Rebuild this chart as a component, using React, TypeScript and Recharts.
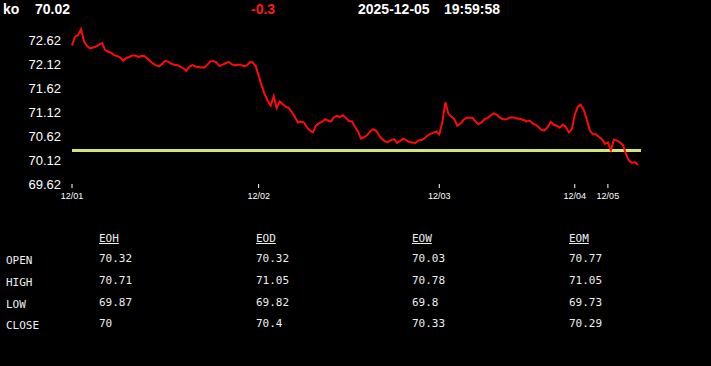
import React from 'react';
import { LineChart, Line, XAxis, YAxis, ReferenceLine } from 'recharts';

const symbol = 'ko';
const lastPrice = '70.02';
const change = '-0.3';
const dateText = '2025-12-05';
const timeText = '19:59:58';

const prices: number[] = [
  72.52, 72.70, 72.74, 72.86, 72.61, 72.51, 72.46, 72.48, 72.50, 72.54,
  72.57, 72.43, 72.39, 72.37, 72.32, 72.30, 72.27, 72.20, 72.26, 72.28,
  72.31, 72.31, 72.28, 72.30, 72.30, 72.25, 72.19, 72.14, 72.10, 72.09,
  72.14, 72.20, 72.18, 72.14, 72.12, 72.11, 72.08, 72.04, 71.99, 72.08,
  72.11, 72.08, 72.07, 72.06, 72.06, 72.12, 72.19, 72.19, 72.17, 72.09,
  72.12, 72.15, 72.18, 72.13, 72.11, 72.12, 72.12, 72.09, 72.10, 72.17,
  72.17, 72.09, 71.89, 71.68, 71.50, 71.36, 71.26, 71.46, 71.21, 71.35,
  71.29, 71.24, 71.21, 71.13, 71.03, 70.91, 70.93, 70.91, 70.81, 70.74,
  70.70, 70.84, 70.89, 70.92, 70.98, 70.95, 70.93, 71.02, 71.05, 71.02,
  71.06, 71.00, 70.94, 70.93, 70.82, 70.72, 70.57, 70.60, 70.64, 70.72,
  70.77, 70.74, 70.64, 70.56, 70.51, 70.50, 70.54, 70.56, 70.48, 70.52,
  70.57, 70.54, 70.50, 70.49, 70.48, 70.53, 70.54, 70.57, 70.63, 70.67,
  70.69, 70.72, 70.66, 70.91, 71.33, 71.10, 71.03, 70.98, 70.84, 70.88,
  70.96, 71.01, 71.01, 71.01, 70.93, 70.87, 70.91, 70.98, 71.00, 71.05,
  71.10, 71.08, 71.02, 70.98, 70.97, 71.00, 71.02, 71.01, 70.99, 70.98,
  70.96, 70.93, 70.95, 70.89, 70.86, 70.81, 70.75, 70.74, 70.81, 70.92,
  70.86, 70.84, 70.80, 70.86, 70.82, 70.70, 70.76, 71.07, 71.24, 71.28,
  71.17, 70.97, 70.74, 70.66, 70.66, 70.61, 70.56, 70.46, 70.49, 70.33,
  70.55, 70.53, 70.49, 70.44, 70.25, 70.11, 70.06, 70.08, 70.02,
];

const xTickIndex = [0, 62, 122, 167, 178];
const xTickLabels = ['12/01', '12/02', '12/03', '12/04', '12/05'];
const yTicks = [69.62, 70.12, 70.62, 71.12, 71.62, 72.12, 72.62];
const referenceLevel = 70.32;

const tableColumns = ['EOH', 'EOD', 'EOW', 'EOM'];
const tableRows = ['OPEN', 'HIGH', 'LOW', 'CLOSE'];
const openValues = ['70.32', '70.32', '70.03', '70.77'];
const highValues = ['70.71', '71.05', '70.78', '71.05'];
const lowValues = ['69.87', '69.82', '69.8', '69.73'];
const closeValues = ['70', '70.4', '70.33', '70.29'];

const data = prices.map((p, i) => ({ i, price: p }));
const tableValues = [openValues, highValues, lowValues, closeValues];

const colX = [99, 256, 412, 569];
const rowY = [258, 280, 302, 323];

export default function App() {
  const headerFont: React.CSSProperties = {
    position: 'absolute',
    top: 1,
    fontFamily: '"Liberation Sans", Arial, sans-serif',
    fontWeight: 'bold',
    fontSize: 14,
    lineHeight: '16px',
    color: '#ffffff',
    whiteSpace: 'nowrap',
  };
  const mono: React.CSSProperties = {
    position: 'absolute',
    fontFamily: '"DejaVu Sans Mono", monospace',
    fontSize: 11,
    lineHeight: '13px',
    color: '#eeeeee',
    whiteSpace: 'nowrap',
  };
  return (
    <div style={{ position: 'fixed', left: 0, top: 0, width: 711, height: 366, background: '#000000', overflow: 'hidden' }}>
      <div style={{ ...headerFont, left: 3 }}>{symbol}</div>
      <div style={{ ...headerFont, left: 35 }}>{lastPrice}</div>
      <div style={{ ...headerFont, left: 251, color: '#ff1a1a' }}>{change}</div>
      <div style={{ ...headerFont, left: 358 }}>{dateText}</div>
      <div style={{ ...headerFont, left: 444 }}>{timeText}</div>

      <div style={{ position: 'absolute', left: 0, top: 0 }}>
        <LineChart width={711} height={215} data={data} margin={{ top: 26, right: 70, bottom: 1, left: 0 }}>
          <XAxis
            dataKey="i"
            type="number"
            domain={[0, 189]}
            ticks={xTickIndex}
            tickFormatter={(v: number) => xTickLabels[xTickIndex.indexOf(v)] ?? ''}
            axisLine={false}
            tickLine={{ stroke: '#ffffff', strokeWidth: 1 }}
            tickSize={4}
            tickMargin={5}
            height={30}
            interval={0}
            tick={{ fill: '#ffffff', fontSize: 9, fontFamily: '"Liberation Sans", Arial, sans-serif' }}
          />
          <YAxis
            type="number"
            domain={[69.62, 72.93]}
            ticks={yTicks}
            width={72}
            axisLine={false}
            tickLine={false}
            tickSize={6}
            tickMargin={5}
            interval={0}
            allowDataOverflow
            tickFormatter={(v: number) => v.toFixed(2)}
            tick={{ fill: '#ffffff', fontSize: 13, fontFamily: '"Liberation Sans", Arial, sans-serif' }}
          />
          <ReferenceLine y={referenceLevel} stroke="#d6e27a" strokeWidth={3} ifOverflow="extendDomain" />
          <Line
            type="linear"
            dataKey="price"
            stroke="#ff0a0a"
            strokeWidth={2}
            dot={false}
            isAnimationActive={false}
          />
        </LineChart>
      </div>

      {tableColumns.map((c, ci) => (
        <div key={c} style={{ ...mono, left: colX[ci], top: 232, textDecoration: 'underline' }}>{c}</div>
      ))}
      {tableRows.map((r, ri) => (
        <div key={r} style={{ ...mono, left: 6, top: rowY[ri] - 4 }}>{r}</div>
      ))}
      {tableValues.map((row, ri) =>
        row.map((v, ci) => (
          <div key={ri + '-' + ci} style={{ ...mono, left: colX[ci], top: rowY[ri] - 6 }}>{v}</div>
        ))
      )}
    </div>
  );
}
